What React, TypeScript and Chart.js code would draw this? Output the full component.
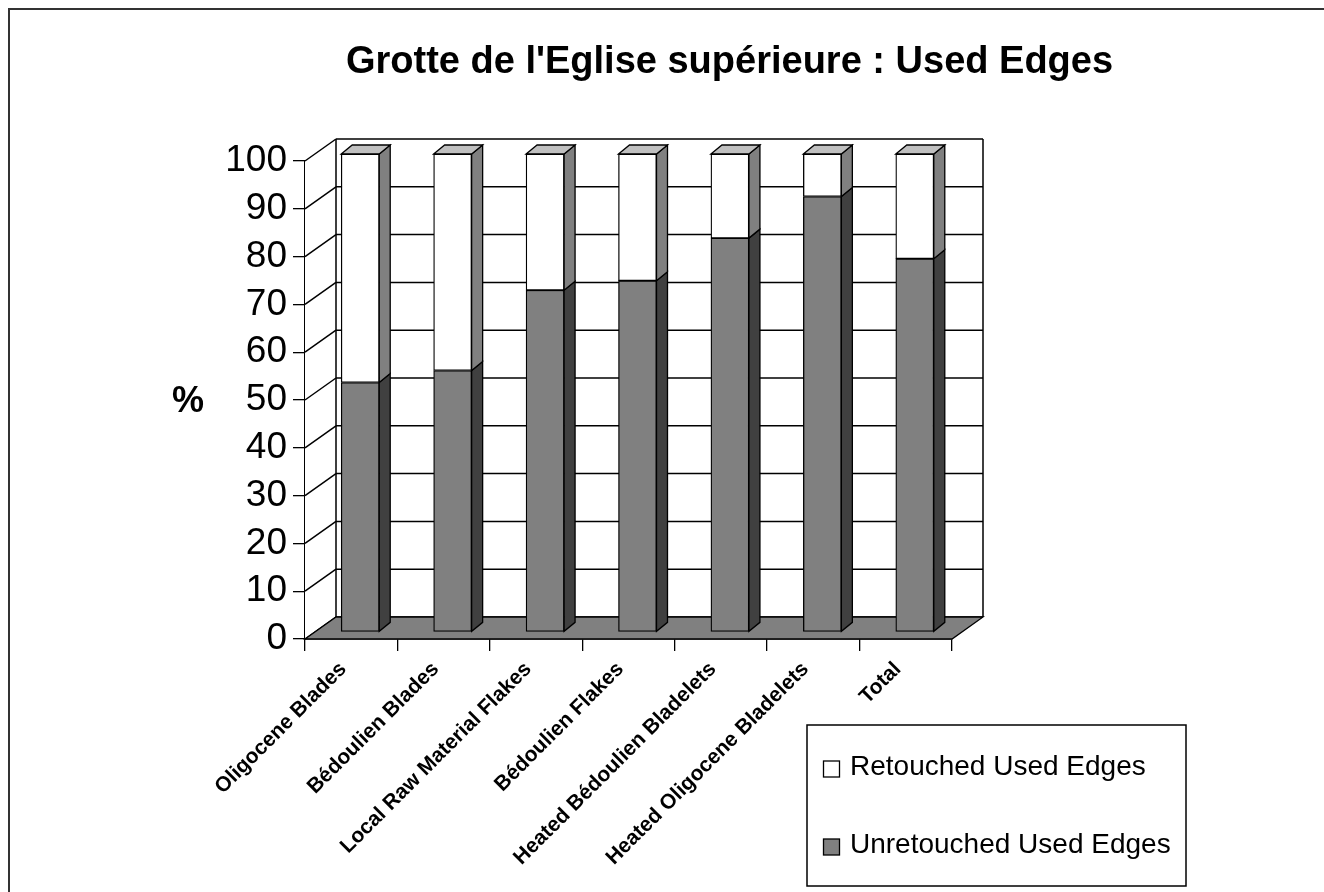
import React, { useEffect, useRef } from "react";
import { Chart, registerables } from "chart.js";

Chart.register(...registerables);

const TITLE = "Grotte de l'Eglise supérieure : Used Edges";
const Y_LABEL = "%";
const CATEGORIES = [
  "Oligocene Blades",
  "Bédoulien Blades",
  "Local Raw Material Flakes",
  "Bédoulien Flakes",
  "Heated Bédoulien Bladelets",
  "Heated Oligocene Bladelets",
  "Total",
];
const UNRETOUCHED = [52.2, 54.7, 71.5, 73.5, 82.4, 91.1, 78.1];
const RETOUCHED = [47.8, 45.3, 28.5, 26.5, 17.6, 8.9, 21.9];
const SERIES_NAMES = ["Unretouched Used Edges", "Retouched Used Edges"];
const Y_MIN = 0;
const Y_MAX = 100;
const Y_STEP = 10;

const FONT = "'Liberation Sans', Arial, sans-serif";
const FRONT_COLORS = ["#808080", "#ffffff"];
const SIDE_COLORS = ["#404040", "#808080"];
const TOP_COLORS = ["#606060", "#c0c0c0"];
const DEPTH = { x: 31, y: -22 };
const BAR_SHIFT = { x: 9, y: -7 };
const BAR_DEPTH = { x: 11, y: -9 };

function poly(ctx: CanvasRenderingContext2D, pts: number[][], fill: string | null, stroke: string | null, lw = 1) {
  ctx.beginPath();
  ctx.moveTo(pts[0][0], pts[0][1]);
  for (let i = 1; i < pts.length; i++) ctx.lineTo(pts[i][0], pts[i][1]);
  ctx.closePath();
  if (fill) {
    ctx.fillStyle = fill;
    ctx.fill();
  }
  if (stroke) {
    ctx.strokeStyle = stroke;
    ctx.lineWidth = lw;
    ctx.stroke();
  }
}

const excel3d = {
  id: "excel3d",
  beforeDatasetsDraw(chart: any) {
    const { ctx, chartArea } = chart;
    const { left, right, top, bottom } = chartArea;
    const ys = chart.scales.y;
    ctx.save();
    // left wall
    poly(ctx, [[left, bottom], [left, top], [left + DEPTH.x, top + DEPTH.y], [left + DEPTH.x, bottom + DEPTH.y]], "#ffffff", null);
    // back wall
    poly(ctx, [[left + DEPTH.x, top + DEPTH.y], [right + DEPTH.x, top + DEPTH.y], [right + DEPTH.x, bottom + DEPTH.y], [left + DEPTH.x, bottom + DEPTH.y]], "#ffffff", null);
    ctx.strokeStyle = "#000";
    ctx.lineWidth = 1.5;
    ys.ticks.forEach((t: any) => {
      const py = ys.getPixelForValue(t.value);
      ctx.beginPath();
      ctx.moveTo(left + DEPTH.x, py + DEPTH.y);
      ctx.lineTo(right + DEPTH.x, py + DEPTH.y);
      ctx.stroke();
      ctx.beginPath();
      ctx.moveTo(left, py);
      ctx.lineTo(left + DEPTH.x, py + DEPTH.y);
      ctx.stroke();
    });
    // back wall edges
    ctx.beginPath();
    ctx.moveTo(left + DEPTH.x, bottom + DEPTH.y);
    ctx.lineTo(left + DEPTH.x, top + DEPTH.y);
    ctx.moveTo(right + DEPTH.x, top + DEPTH.y);
    ctx.lineTo(right + DEPTH.x, bottom + DEPTH.y);
    ctx.stroke();
    // floor
    poly(ctx, [[left, bottom], [right, bottom], [right + DEPTH.x, bottom + DEPTH.y], [left + DEPTH.x, bottom + DEPTH.y]], "#808080", "#000", 1.3);
    ctx.restore();

    // bars: shift into the bar plane
    ctx.save();
    ctx.translate(BAR_SHIFT.x, BAR_SHIFT.y);
    const n = chart.data.datasets.length;
    chart.data.datasets.forEach((_ds: any, di: number) => {
      const meta = chart.getDatasetMeta(di);
      meta.data.forEach((bar: any) => {
        const p = bar.getProps(["x", "y", "base", "width"], true);
        const xl = p.x - p.width / 2;
        const xr = p.x + p.width / 2;
        const yt = Math.min(p.y, p.base);
        const yb = Math.max(p.y, p.base);
        poly(ctx, [[xr, yt], [xr + BAR_DEPTH.x, yt + BAR_DEPTH.y], [xr + BAR_DEPTH.x, yb + BAR_DEPTH.y], [xr, yb]], SIDE_COLORS[di], "#000", 1.3);
        if (di === n - 1) {
          poly(ctx, [[xl, yt], [xl + BAR_DEPTH.x, yt + BAR_DEPTH.y], [xr + BAR_DEPTH.x, yt + BAR_DEPTH.y], [xr, yt]], TOP_COLORS[di], "#000", 1.3);
        }
      });
    });
  },
  afterDatasetsDraw(chart: any) {
    chart.ctx.restore();
  },
  afterDraw(chart: any) {
    const ctx = chart.ctx;
    ctx.save();
    // outer frame (top & left visible)
    ctx.strokeStyle = "#333";
    ctx.lineWidth = 2;
    ctx.beginPath();
    ctx.moveTo(1, chart.height);
    ctx.lineTo(1, 1);
    ctx.lineTo(chart.width, 1);
    ctx.stroke();
    // title
    ctx.fillStyle = "#000";
    ctx.font = `bold 38px ${FONT}`;
    ctx.textAlign = "center";
    ctx.textBaseline = "middle";
    ctx.fillText(TITLE, 721.5, 55);
    // y label
    ctx.font = `bold 36px ${FONT}`;
    ctx.fillText(Y_LABEL, 180, 394);
    // legend
    const box = { l: 799, t: 717, r: 1178, b: 878 };
    ctx.lineWidth = 1.5;
    ctx.strokeStyle = "#000";
    ctx.fillStyle = "#fff";
    ctx.fillRect(box.l, box.t, box.r - box.l, box.b - box.t);
    ctx.strokeRect(box.l, box.t, box.r - box.l, box.b - box.t);
    const rows = [761, 839];
    const order = [1, 0];
    ctx.font = `28px ${FONT}`;
    ctx.textAlign = "left";
    order.forEach((di, i) => {
      const cy = rows[i];
      ctx.fillStyle = FRONT_COLORS[di];
      ctx.fillRect(815.5, cy - 8, 16, 16);
      ctx.lineWidth = 1.3;
      ctx.strokeRect(815.5, cy - 8, 16, 16);
      ctx.fillStyle = "#000";
      ctx.fillText(chart.data.datasets[di].label, 842, cy - 2);
    });
    ctx.restore();
  },
};

export default function App() {
  const ref = useRef<HTMLCanvasElement | null>(null);
  useEffect(() => {
    if (!ref.current) return;
    const chart = new Chart(ref.current, {
      type: "bar",
      data: {
        labels: CATEGORIES,
        datasets: [
          {
            label: SERIES_NAMES[0],
            data: UNRETOUCHED,
            backgroundColor: FRONT_COLORS[0],
            borderColor: "#000",
            borderWidth: 1.3,
            borderSkipped: false,
            barThickness: 38,
            clip: false as any,
          },
          {
            label: SERIES_NAMES[1],
            data: RETOUCHED,
            backgroundColor: FRONT_COLORS[1],
            borderColor: "#000",
            borderWidth: 1.3,
            borderSkipped: false,
            barThickness: 38,
            clip: false as any,
          },
        ],
      },
      options: {
        animation: false,
        responsive: false,
        maintainAspectRatio: false,
        layout: { padding: { top: 153, right: 372, left: 0, bottom: 0 } },
        plugins: {
          legend: { display: false },
          title: { display: false },
          tooltip: { enabled: false },
        },
        scales: {
          x: {
            stacked: true,
            offset: true,
            z: 1,
            grid: { offset: true, drawOnChartArea: false, drawTicks: true, tickLength: 12, color: "#000", lineWidth: 1.3 },
            border: { display: true, color: "#000", width: 1.5 },
            ticks: {
              autoSkip: false,
              maxRotation: 45,
              minRotation: 45,
              color: "#000",
              padding: 6,
              labelOffset: -8,
              font: { family: FONT, size: 21, weight: "bold" },
            },
            afterFit: (s: any) => {
              s.height = 253;
            },
          },
          y: {
            stacked: true,
            min: Y_MIN,
            max: Y_MAX,
            z: 1,
            ticks: { stepSize: Y_STEP, color: "#000", padding: 6, font: { family: FONT, size: 37 } },
            grid: { drawOnChartArea: false, drawTicks: true, tickLength: 12, color: "#000", lineWidth: 1.3 },
            border: { display: true, color: "#000", width: 2 },
            afterFit: (s: any) => {
              s.width = 297;
            },
          },
        },
      },
      plugins: [excel3d],
    } as any);
    return () => chart.destroy();
  }, []);
  return (
    <div style={{ position: "fixed", left: 8, top: 8, width: 1316, height: 884, background: "#fff" }}>
      <canvas ref={ref} width={1316} height={884} style={{ display: "block" }} />
    </div>
  );
}
